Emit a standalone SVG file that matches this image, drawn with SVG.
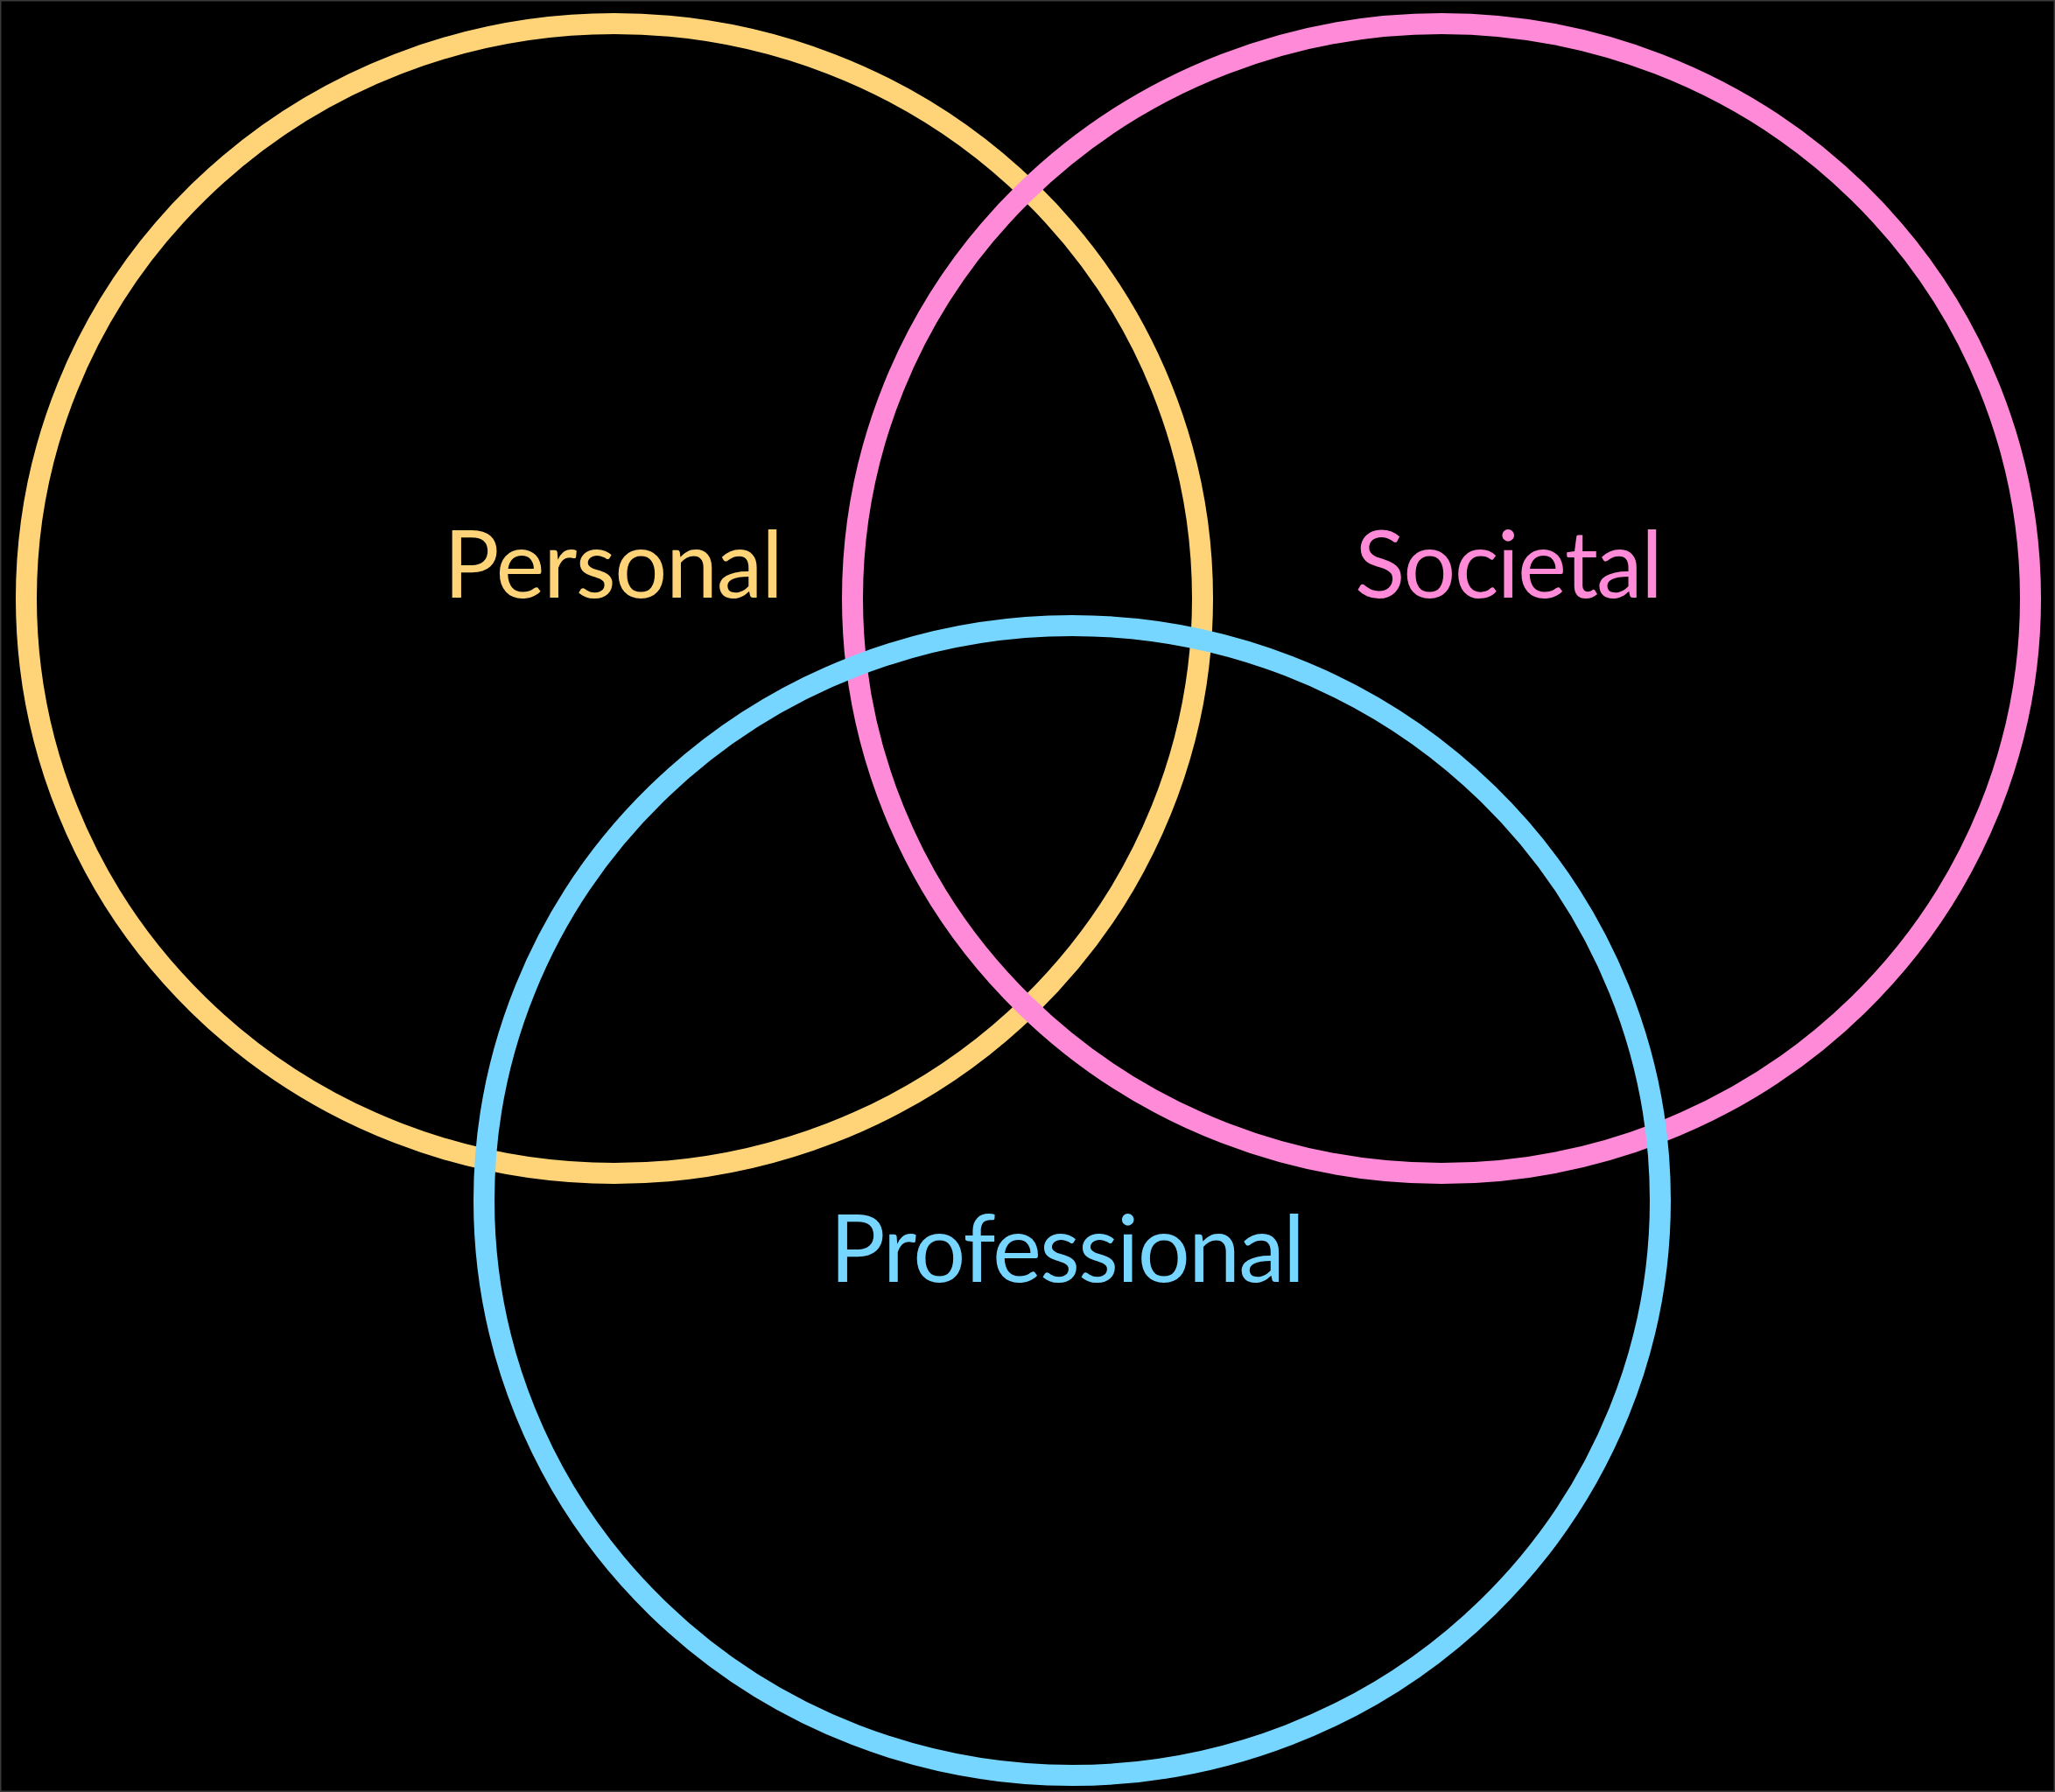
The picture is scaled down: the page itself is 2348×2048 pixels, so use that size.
<svg xmlns="http://www.w3.org/2000/svg" width="2348" height="2048" viewBox="0 0 2348 2048">
<style>
.ring{fill:none;stroke-width:24}
.lbl{font-family:"Lato","Open Sans","Liberation Sans",sans-serif;font-size:106px}
</style>
<rect x="0.75" y="0.75" width="2346.5" height="2046.5" fill="#000" stroke="#3a3a3a" stroke-width="1.5"/>
<g id="personal">
<ellipse class="ring" cx="702" cy="684" rx="672" ry="657" stroke="#FFD479"/>
</g>
<g id="societal">
<ellipse class="ring" cx="1647" cy="684" rx="673" ry="657" stroke="#FF8AD8"/>
</g>
<g id="professional">
<ellipse class="ring" cx="1225" cy="1372" rx="672" ry="657" stroke="#76D6FF"/>
</g>
<g id="labels">
<text class="lbl" x="507" y="683" textLength="388" lengthAdjust="spacing" fill="#FFD479">Personal</text>
<text class="lbl" x="1548" y="683" textLength="352" lengthAdjust="spacing" fill="#FF8AD8">Societal</text>
<text class="lbl" x="948" y="1465" textLength="543" lengthAdjust="spacing" fill="#76D6FF">Professional</text>
</g>
<g id="connectors"></g>
</svg>
